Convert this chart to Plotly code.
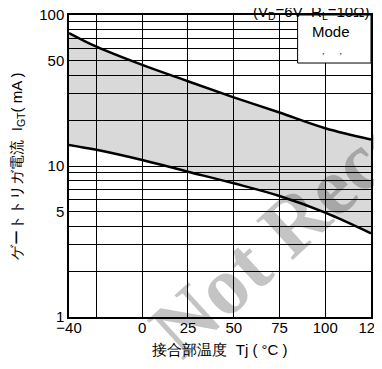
import plotly.graph_objects as go

# Data
tj = [-40, -25, 0, 25, 50, 75, 100, 125]
igt_max = [76, 61.7, 46.7, 36.4, 28.5, 22.6, 17.8, 15.0]
igt_min = [13.8, 12.8, 10.95, 9.17, 7.68, 6.33, 4.91, 3.58]

x_tickvals = [-40, 0, 25, 50, 75, 100, 125]
x_ticktext = ["\u221240", "0", "25", "50", "75", "100", "125"]
y_tickvals = [1, 5, 10, 50, 100]
y_ticktext = ["1", "5", "10", "50", "100"]

FONT = "Liberation Sans, Arial, sans-serif"

fig = go.Figure()
fig.add_trace(go.Scatter(x=tj, y=igt_min, mode="lines", line=dict(color="black", width=2.5),
                         line_shape="spline", showlegend=False, hoverinfo="skip"))
fig.add_trace(go.Scatter(x=tj, y=igt_max, mode="lines", line=dict(color="black", width=2.5),
                         line_shape="spline", fill="tonexty", fillcolor="rgba(0,0,0,0.15)",
                         showlegend=False, hoverinfo="skip"))

# screen pixel -> paper (the page is drawn with an 8px body offset)
def px2paper(px, py):
    return (px - 69) / 302, (317 - py) / 302

x0, y0 = px2paper(190, 370)
x1, y1 = px2paper(490, 96)

shapes = [
    # watermark (below grid)
    dict(type="line", xref="paper", yref="paper", x0=x0, y0=y0, x1=x1, y1=y1,
         line=dict(color="rgba(0,0,0,0)", width=1), layer="below",
         label=dict(text="Not Recommended", textposition="start",
                    font=dict(family="Liberation Serif, Times New Roman, serif", size=82,
                              color="#c4c4c4", weight="bold"))),
    # Mode box
    dict(type="rect", xref="paper", yref="paper", x0=0.757, y0=0.841, x1=1.0, y1=1.0,
         fillcolor="white", line=dict(color="black", width=1), layer="above"),
]

annotations = [
    dict(text="Mode", xref="paper", yref="paper", x=(331 - 69) / 302, y=(317 - 31) / 302,
         xanchor="center", yanchor="middle",
         showarrow=False, font=dict(family=FONT, size=15, color="black")),
    dict(text=",      ,", xref="paper", yref="paper", x=(332 - 69) / 302, y=(317 - 51) / 302,
         xanchor="center", yanchor="middle",
         showarrow=False, font=dict(family=FONT, size=9, color="black")),
    dict(text="(V<sub>D</sub>=6V  R<sub>L</sub>=10\u03a9)", xref="paper", yref="paper",
         x=(371 - 69) / 302, y=(317 - 13) / 302, xanchor="right", yanchor="middle",
         showarrow=False, font=dict(family=FONT, size=15, color="black")),
]

fig.update_layout(
    width=382, height=369,
    margin=dict(l=61, r=19, t=7, b=60, autoexpand=False),
    paper_bgcolor="white", plot_bgcolor="white",
    shapes=shapes, annotations=annotations,
    font=dict(family=FONT, size=15, color="black"),
    xaxis=dict(range=[-40, 125], tickmode="array", tickvals=x_tickvals, ticktext=x_ticktext,
               showgrid=True, gridcolor="black", gridwidth=1, zeroline=False,
               minor=dict(tick0=-25, dtick=25, showgrid=True, gridcolor="black", gridwidth=1),
               showline=True, linecolor="black", linewidth=1.5, mirror=True,
               ticks="", tickfont=dict(size=15), automargin=False,
               ticklabeloverflow="allow", ticklabelstandoff=-4,
               title=dict(text="接合部温度  Tj ( °C )", font=dict(size=15), standoff=10)),
    yaxis=dict(type="log", range=[0, 2], tickmode="array", tickvals=y_tickvals, ticktext=y_ticktext,
               showgrid=True, gridcolor="black", gridwidth=1, zeroline=False,
               minor=dict(dtick="D1", showgrid=True, gridcolor="black", gridwidth=1),
               showline=True, linecolor="black", linewidth=1.5, mirror=True,
               ticks="", tickfont=dict(size=15), automargin=False,
               ticklabeloverflow="allow",
               title=dict(text="ゲートトリガ電流  I<sub>GT</sub>( mA )", font=dict(size=15), standoff=16)),
)

fig.write_html("out.html")
